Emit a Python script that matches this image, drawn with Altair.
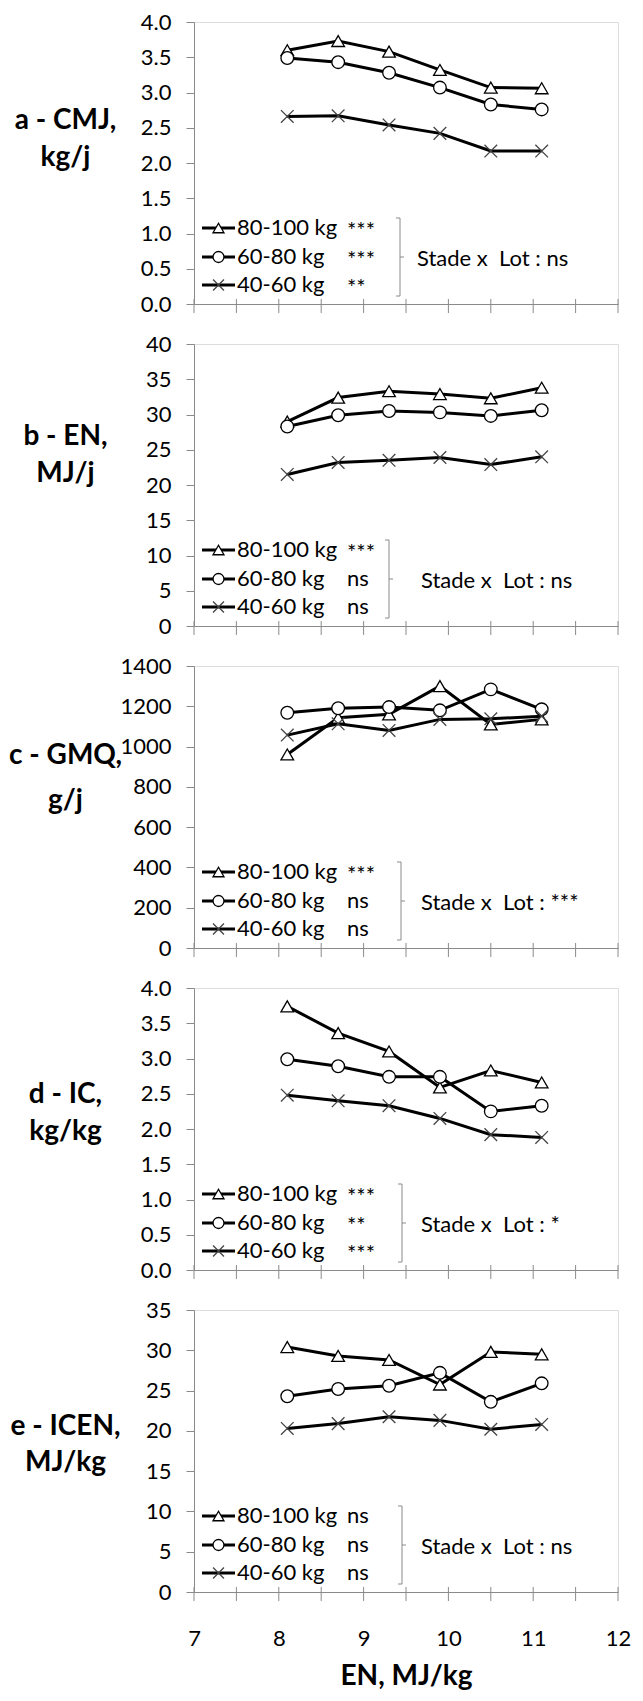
import altair as alt
import pandas as pd

# ---------------- data ----------------
X_VALUES = [8.1, 8.7, 9.3, 9.9, 10.5, 11.1]
SERIES = ["80-100 kg", "60-80 kg", "40-60 kg"]

CMJ_80_100 = [3.60, 3.73, 3.58, 3.32, 3.07, 3.06]
CMJ_60_80 = [3.49, 3.43, 3.28, 3.07, 2.83, 2.76]
CMJ_40_60 = [2.66, 2.67, 2.54, 2.42, 2.17, 2.17]

EN_80_100 = [29.0, 32.4, 33.3, 32.9, 32.3, 33.8]
EN_60_80 = [28.3, 29.9, 30.5, 30.3, 29.8, 30.6]
EN_40_60 = [21.5, 23.2, 23.5, 23.9, 22.9, 24.0]

GMQ_80_100 = [961, 1143, 1160, 1300, 1110, 1135]
GMQ_60_80 = [1168, 1190, 1196, 1180, 1284, 1185]
GMQ_40_60 = [1057, 1113, 1080, 1135, 1138, 1151]

IC_80_100 = [3.74, 3.36, 3.10, 2.59, 2.83, 2.66]
IC_60_80 = [2.99, 2.89, 2.74, 2.74, 2.25, 2.33]
IC_40_60 = [2.48, 2.40, 2.33, 2.15, 1.92, 1.88]

ICEN_80_100 = [30.4, 29.3, 28.8, 25.75, 29.8, 29.5]
ICEN_60_80 = [24.3, 25.2, 25.6, 27.2, 23.6, 25.9]
ICEN_40_60 = [20.3, 20.9, 21.75, 21.3, 20.2, 20.8]

PANEL_VALUES = [
    [CMJ_80_100, CMJ_60_80, CMJ_40_60],
    [EN_80_100, EN_60_80, EN_40_60],
    [GMQ_80_100, GMQ_60_80, GMQ_40_60],
    [IC_80_100, IC_60_80, IC_40_60],
    [ICEN_80_100, ICEN_60_80, ICEN_40_60],
]
PANEL_TITLES = [
    ["a - CMJ,", "kg/j"],
    ["b - EN,", "MJ/j"],
    ["c - GMQ,", "g/j"],
    ["d - IC,", "kg/kg"],
    ["e - ICEN,", "MJ/kg"],
]
Y_DOMAIN_MAX = [4, 40, 1400, 4, 35]
Y_TICKS = [
    [0, 0.5, 1.0, 1.5, 2.0, 2.5, 3.0, 3.5, 4.0],
    [0, 5, 10, 15, 20, 25, 30, 35, 40],
    [0, 200, 400, 600, 800, 1000, 1200, 1400],
    [0, 0.5, 1.0, 1.5, 2.0, 2.5, 3.0, 3.5, 4.0],
    [0, 5, 10, 15, 20, 25, 30, 35],
]
Y_FORMAT = [".1f", "d", "d", ".1f", "d"]
SIGNIF = [
    ["***", "***", "**"],
    ["***", "ns", "ns"],
    ["***", "ns", "ns"],
    ["***", "**", "***"],
    ["ns", "ns", "ns"],
]
INTERACTION = ["ns", "ns", "***", "*", "ns"]
X_LABEL_TICKS = [7, 8, 9, 10, 11, 12]
X_MINOR_TICKS = [7, 7.5, 8, 8.5, 9, 9.5, 10, 10.5, 11, 11.5, 12]
X_TITLE = "EN, MJ/kg"

# ---------------- layout / style ----------------
W, H = 424, 282
GREY = "#8a8a8a"
FONT = "Lato"
CROSS = "M-1,-1L1,1M-1,1L1,-1"
SHAPES = ["triangle-up", "circle", CROSS]
TITLE_Y = [84, 78, 75, 92, 102]
TITLE_LH = [37, 37, 45, 37, 36]
BRACKET_X = [206, 195, 207, 208, 208]
STADE_X = [223, 227, 227, 227, 227]
ROW_Y = [206, 235, 263]
BR_TOP, BR_MID, BR_BOT = 196, 235, 274


def legend_layers(i):
    layers = []
    one = pd.DataFrame({"k": [0]})
    for r, (name, sig) in enumerate(zip(SERIES, SIGNIF[i])):
        y = ROW_Y[r]
        layers.append(alt.Chart(one).mark_rule(color="black", strokeWidth=3).encode(
            x=alt.value(8), x2=alt.value(41), y=alt.value(y)))
        layers.append(alt.Chart(one).mark_point(
            filled=True, fill="white", stroke="black" if r < 2 else "#444",
            strokeWidth=1.3, size=120, opacity=1, shape=SHAPES[r]).encode(
            x=alt.value(24.5), y=alt.value(y)))
        layers.append(alt.Chart(pd.DataFrame({"t": [name]})).mark_text(
            align="left", baseline="middle", font=FONT, fontSize=22, color="black").encode(
            x=alt.value(43), y=alt.value(y), text="t:N"))
        layers.append(alt.Chart(pd.DataFrame({"t": [sig]})).mark_text(
            align="left", baseline="middle", font=FONT, fontSize=22, color="black").encode(
            x=alt.value(153), y=alt.value(y + (3 if "*" in sig else 0)), text="t:N"))
    bx = BRACKET_X[i]
    layers.append(alt.Chart(one).mark_rule(color=GREY, strokeWidth=1).encode(
        x=alt.value(bx), y=alt.value(BR_TOP), y2=alt.value(BR_BOT)))
    layers.append(alt.Chart(one).mark_rule(color=GREY, strokeWidth=1).encode(
        x=alt.value(bx - 4), x2=alt.value(bx), y=alt.value(BR_TOP)))
    layers.append(alt.Chart(one).mark_rule(color=GREY, strokeWidth=1).encode(
        x=alt.value(bx - 4), x2=alt.value(bx), y=alt.value(BR_BOT)))
    layers.append(alt.Chart(one).mark_rule(color=GREY, strokeWidth=1).encode(
        x=alt.value(bx), x2=alt.value(bx + 4), y=alt.value(BR_MID)))
    stade = "Stade x\u00a0\u00a0Lot : " + INTERACTION[i]
    layers.append(alt.Chart(pd.DataFrame({"t": [stade]})).mark_text(
        align="left", baseline="middle", font=FONT, fontSize=22, color="black").encode(
        x=alt.value(STADE_X[i]), y=alt.value(BR_MID + 2), text="t:N"))
    return layers


def panel(i):
    last = i == len(PANEL_VALUES) - 1
    rows = []
    for name, vals in zip(SERIES, PANEL_VALUES[i]):
        for x, y in zip(X_VALUES, vals):
            rows.append({"x": x, "y": y, "series": name})
    df = pd.DataFrame(rows)
    ticks_df = pd.DataFrame({"x": X_MINOR_TICKS})

    xscale = alt.Scale(domain=[7, 12], nice=False, zero=False)
    yscale = alt.Scale(domain=[0, Y_DOMAIN_MAX[i]], nice=False)

    if last:
        x_axis = alt.Axis(values=X_LABEL_TICKS, ticks=False, grid=False, domainColor=GREY,
                          labels=True, labelFont=FONT, labelFontSize=22, labelColor="black",
                          labelPadding=36, labelFlush=False, labelOverlap=False,
                          title=X_TITLE, titleFont=FONT, titleFontSize=28,
                          titleFontWeight="bold", titleColor="black",
                          titleBaseline="middle", titleY=84)
    else:
        x_axis = alt.Axis(values=X_LABEL_TICKS, ticks=False, grid=False, domainColor=GREY,
                          labels=False, title="")

    y_axis = alt.Axis(values=Y_TICKS[i], format=Y_FORMAT[i], grid=False,
                      domainColor=GREY, tickColor=GREY, tickSize=8, labelPadding=15,
                      labelFont=FONT, labelFontSize=22, labelColor="black",
                      labelFlush=False, labelOverlap=False,
                      title=PANEL_TITLES[i], titleAngle=0, titleAlign="center",
                      titleBaseline="top", titleX=-129, titleY=TITLE_Y[i],
                      titleFont=FONT, titleFontSize=28, titleFontWeight="bold",
                      titleColor="black", titleLineHeight=TITLE_LH[i])

    X = alt.X("x:Q", scale=xscale, axis=x_axis, title=x_axis.title)
    Y = alt.Y("y:Q", scale=yscale, axis=y_axis, title=PANEL_TITLES[i])

    ticks = alt.Chart(ticks_df).mark_rule(color=GREY, strokeWidth=1).encode(
        x=X, y=alt.value(H - 5), y2=alt.value(H + 9),
    )
    base = alt.Chart(df)
    lines = base.mark_line(color="black", strokeWidth=3).encode(
        x=X, y=Y, detail="series:N",
    )
    pts = base.mark_point(filled=True, fill="white", strokeWidth=1.3, size=160, opacity=1).encode(
        x=X, y=Y,
        shape=alt.Shape("series:N", scale=alt.Scale(domain=SERIES, range=SHAPES), legend=None),
        stroke=alt.Stroke("series:N", scale=alt.Scale(domain=SERIES, range=["black", "black", "#444"]), legend=None),
    )
    return alt.layer(lines, ticks, pts, *legend_layers(i)).properties(width=W, height=H)


chart = alt.vconcat(*[panel(i) for i in range(5)], spacing=40, bounds="flush").properties(
    padding={"left": 0, "top": 2, "right": 0, "bottom": 0}
).configure_view(stroke=None).configure(font=FONT)

chart.save("out.html", embed_options={"renderer": "svg", "actions": False})
